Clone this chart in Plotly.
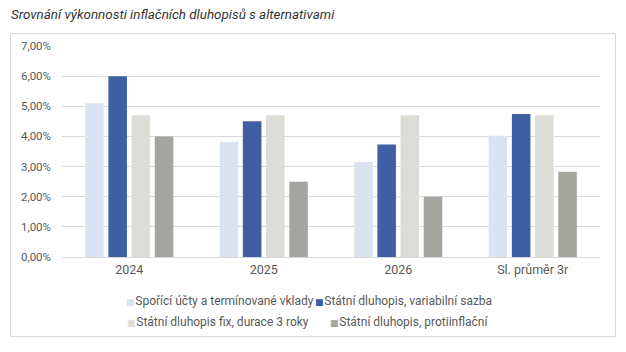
import plotly.graph_objects as go

categories = ["2024", "2025", "2026", "Sl. průměr 3r"]
series_names = [
    "Spořící účty a termínované vklady",
    "Státní dluhopis, variabilní sazba",
    "Státní dluhopis fix, durace 3 roky",
    "Státní dluhopis, protiinflační",
]
sporici = [5.10, 3.82, 3.15, 4.02]
variabilni = [6.00, 4.50, 3.73, 4.74]
fix3 = [4.70, 4.70, 4.70, 4.70]
protiinflacni = [4.00, 2.50, 2.00, 2.83]
colors = ["#DCE3F0", "#3F5FA5", "#DDDDD8", "#A5A5A0"]

title_text = "Srovnání výkonnosti inflačních dluhopisů s alternativami"

W, H = 626, 352
ml, mr, mt, mb = 62, 26, 46, 95
pw, ph = W - ml - mr, H - mt - mb

def px_x(x):
    return (x - ml) / pw

def px_y(y):
    return (H - mb - y) / ph

# legend entry placement (pixel position of the coloured square, row centre)
legend_slots = [(126, 300), (315, 300), (127, 321), (330, 321)]
legend_ids = ["legend", "legend2", "legend3", "legend4"]

fig = go.Figure()
for name, vals, col in zip(series_names, [sporici, variabilni, fix3, protiinflacni], colors):
    fig.add_trace(go.Bar(
        x=categories, y=[v / 100 for v in vals], name=name,
        marker=dict(color=col, line=dict(width=0)),
        legendgroup=name, showlegend=False,
    ))

legend_layout = {}
for name, col, lid, (sx, sy) in zip(series_names, colors, legend_ids, legend_slots):
    label = ('<span style="font-family:DejaVu Sans;font-size:9px;color:%s">■</span>'
             '<span style="font-size:3px"> </span>%s' % (col, name))
    fig.add_trace(go.Scatter(
        x=[None], y=[None], mode="markers", name=label,
        marker=dict(color="rgba(0,0,0,0)", size=1),
        legendgroup=name, showlegend=True, legend=lid, hoverinfo="skip",
    ))
    legend_layout[lid] = dict(
        orientation="h", x=px_x(sx - 40), xanchor="left",
        y=px_y(sy), yanchor="middle",
        bgcolor="rgba(0,0,0,0)", borderwidth=0,
        font=dict(size=12, color="#595959"),
        itemwidth=30,
    )

fig.update_layout(
    width=W, height=H,
    margin=dict(l=ml, r=mr, t=mt, b=mb),
    paper_bgcolor="white", plot_bgcolor="white",
    font=dict(family="Roboto, Arial, sans-serif", size=11, color="#595959"),
    separators=", ",
    barmode="group", bargap=0.31, bargroupgap=0.2,
    showlegend=True,
    annotations=[dict(
        text="<i>" + title_text + "</i>", xref="paper", yref="paper",
        x=px_x(9), y=px_y(14), xanchor="left", yanchor="middle",
        showarrow=False, font=dict(size=13.4, color="#333333"),
    )],
    shapes=[dict(
        type="rect", xref="paper", yref="paper",
        x0=px_x(10.5), x1=px_x(615.5), y0=px_y(336.5), y1=px_y(33.5),
        line=dict(color="#D9D9D9", width=1), fillcolor="rgba(0,0,0,0)", layer="below",
    )],
    **legend_layout,
)
fig.update_yaxes(
    range=[0, 0.07], dtick=0.01, tickformat=".2%",
    showgrid=True, gridcolor="#D9D9D9", gridwidth=1,
    zeroline=False, showline=False, ticks="", ticklabelstandoff=10,
    tickfont=dict(size=11.5, color="#595959"),
)
fig.update_xaxes(
    showline=True, linecolor="#D9D9D9", linewidth=1, ticks="",
    tickfont=dict(size=12.5, color="#595959"), ticklabelstandoff=1,
)

fig.write_html("out.html")
